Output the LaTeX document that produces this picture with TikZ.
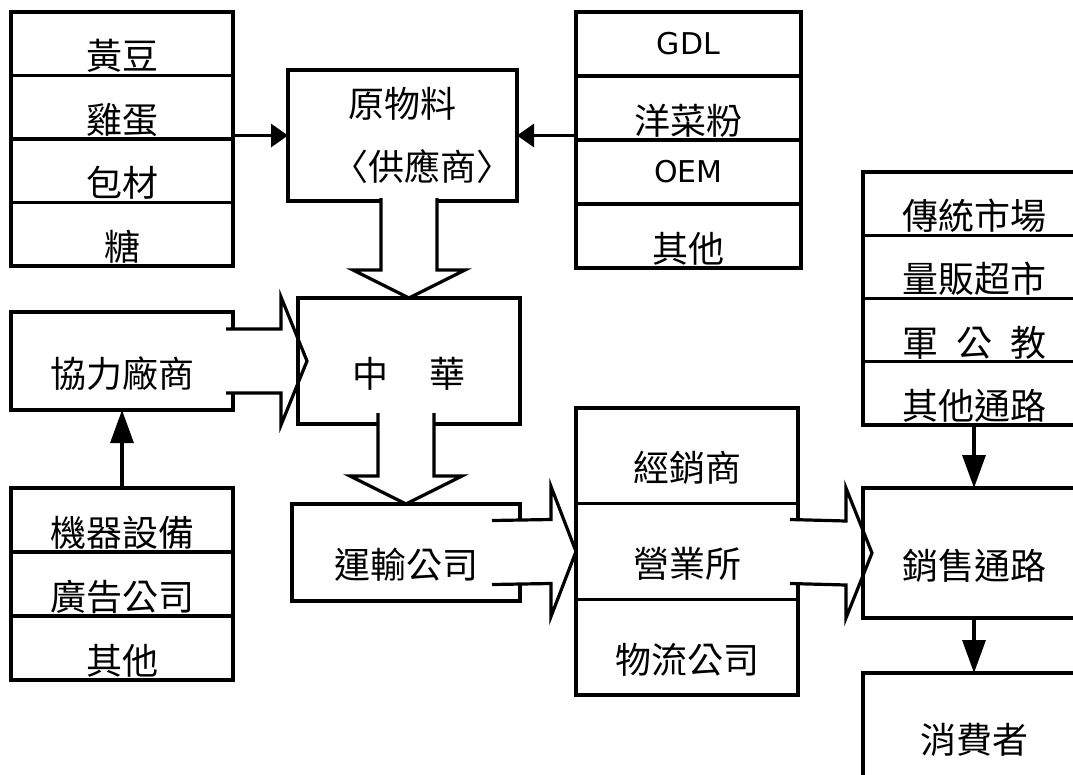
\documentclass[tikz,border=0pt]{standalone}
\usepackage{fontspec}
\setmainfont{Noto Sans CJK TC}
\newfontfamily\latinfont{DejaVu Sans}
\usetikzlibrary{arrows.meta}
\usetikzlibrary{positioning}
\usetikzlibrary{calc}

\begin{document}
\begin{tikzpicture}[x=1pt,y=-1pt,line width=3.2pt,font=\fontsize{36pt}{63pt}\selectfont]
 \tikzstyle{box}=[rectangle,draw,outer sep=0pt,inner sep=0pt,minimum width=222pt]
 \tikzstyle{cell}=[box,minimum height=63.5pt,text height=52pt,text depth=0pt]
 \tikzstyle{latin cell}=[box,minimum height=64pt,font=\latinfont\fontsize{30pt}{36pt}\selectfont]
 \tikzset{
 	feed/.style={-{Triangle[length=17pt,width=23pt]}},
 	flow/.style={-{Triangle[length=33pt,width=23pt]}}
 }
 \useasboundingbox (0,0) rectangle (1073,774);

       % raw materials
       \node[cell] (soy) at (122,43.75) {黃豆};
       \node[cell] (egg) [below=0pt of soy] {雞蛋};
       \node[cell] (pack) [below=0pt of egg] {包材};
       \node[cell] (sugar) [below=0pt of pack] {糖};

       \node[latin cell,minimum width=225pt] (gdl) at (688.5,44) {GDL};
       \node[cell,minimum width=225pt,minimum height=64pt] (agar) [below=0pt of gdl] {洋菜粉};
       \node[latin cell,minimum width=225pt] (oem) [below=0pt of agar] {OEM};
       \node[cell,minimum width=225pt,minimum height=64pt] (rest) [below=0pt of oem] {其他};

       \node[box,align=center,minimum width=229pt,minimum height=131pt] (raw) at (402.5,135.5) {原物料\\\kern40pt〈供應商〉};

       % factory side
       \node[cell,minimum height=98pt] (coop) at (122,361) {協力廠商};
       \node[cell,minimum height=64pt] (machine) at (122,520) {機器設備};
       \node[cell,minimum height=64pt] (ads) [below=0pt of machine] {廣告公司};
       \node[cell,minimum height=64pt] (others) [below=0pt of ads] {其他};

       \node[cell,minimum height=126pt] (china) at (409,361) {中\hspace{41pt}華};
       \node[cell,minimum width=228pt,minimum height=97pt] (truck) at (406,552.5) {運輸公司};

       % distribution
       \node[cell,minimum height=95.67pt] (dealer) at (687,455.83) {經銷商};
       \node[cell,minimum height=95.67pt] (office) [below=0pt of dealer] {營業所};
       \node[cell,minimum height=95.67pt] (logis) [below=0pt of office] {物流公司};

       \node[cell,minimum height=63.25pt] (trad) at (974,203.6) {傳統市場};
       \node[cell,minimum height=63.25pt] (mass) [below=0pt of trad] {量販超市};
       \node[cell,minimum height=63.25pt] (gov) [below=0pt of mass] {軍\hspace{18pt}公\hspace{18pt}教};
       \node[cell,minimum height=63.25pt] (otherch) [below=0pt of gov] {其他通路};

       \node[cell,minimum height=130pt] (sales) at (974,553) {銷售通路};
       \node[cell,minimum height=108pt] (consumer) at (974,727) {消費者};

     \path[feed]  (raw.west -| egg.east) edge (raw.west);
     \path[feed]  (raw.east -| agar.west) edge (raw.east);
     \path[flow]  (machine.north) edge (coop.south);
     \path[flow]  (otherch.south) edge (sales.north);
     \path[flow]  (sales.south) edge (consumer.north);

     % block arrows
     \fill[white] ($(raw.south -| china.north)+(-28,-3)$) rectangle ($(china.north)+(28,-28)$);
     \draw ($(raw.south -| china.north)+(-28,-3)$) -- ($(china.north)+(-28,-28)$) -- ($(china.north)+(-56,-28)$) -- (china.north)
       -- ($(china.north)+(56,-28)$) -- ($(china.north)+(28,-28)$) -- ($(raw.south -| china.north)+(28,-3)$);

     \fill[white] ($(china.south -| truck.north)+(-28,-11)$) rectangle ($(truck.north)+(28,-28)$);
     \draw ($(china.south -| truck.north)+(-28,-11)$) -- ($(truck.north)+(-28,-28)$) -- ($(truck.north)+(-56,-28)$) -- (truck.north)
       -- ($(truck.north)+(56,-28)$) -- ($(truck.north)+(28,-28)$) -- ($(china.south -| truck.north)+(28,-11)$);

     \coordinate (tipA) at ($(china.west)+(9,0)$);
     \fill[white] ($(coop.east)+(-7,-32)$) rectangle ($(tipA)+(-26,32)$);
     \draw ($(coop.east)+(-7,-32)$) -- ($(tipA)+(-26,-32)$) -- ($(tipA)+(-26,-64)$) -- (tipA)
       -- ($(tipA)+(-26,64)$) -- ($(tipA)+(-26,32)$) -- ($(coop.east)+(-7,32)$);

     \fill[white] ($(truck.east)+(-28,-32)$) rectangle ($(office.west)+(-25,32)$);
     \draw ($(truck.east)+(-28,-32)$) -- ($(office.west)+(-25,-32)$) -- ($(office.west)+(-25,-65)$) -- (office.west)
       -- ($(office.west)+(-25,65)$) -- ($(office.west)+(-25,32)$) -- ($(truck.east)+(-28,32)$);

     \coordinate (tipC) at ($(sales.west)+(9,0)$);
     \fill[white] ($(office.east)+(-8,-32)$) rectangle ($(tipC)+(-26,32)$);
     \draw ($(office.east)+(-8,-32)$) -- ($(tipC)+(-26,-32)$) -- ($(tipC)+(-26,-65)$) -- (tipC)
       -- ($(tipC)+(-26,65)$) -- ($(tipC)+(-26,32)$) -- ($(office.east)+(-8,32)$);
 ;
 \end{tikzpicture}
\end{document}
